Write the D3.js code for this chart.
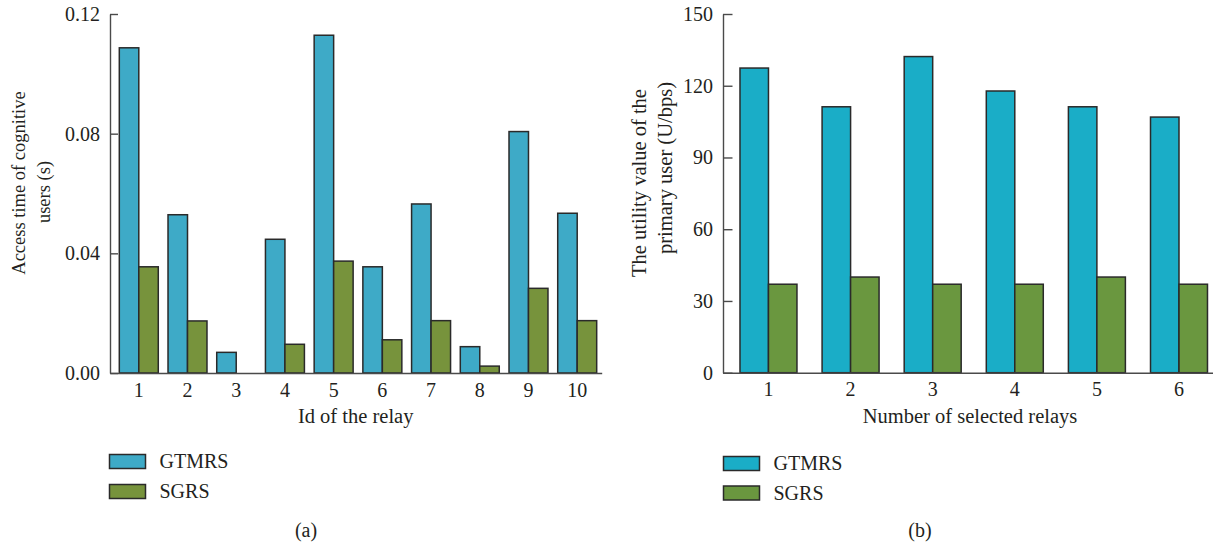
<!DOCTYPE html>
<html>
<head>
<meta charset="utf-8">
<script src="https://cdn.jsdelivr.net/npm/d3@7"></script>
<style>
  body { margin: 0; background: #fff; }
  svg { display: block; }
  text { font-family: "Liberation Serif", "Times New Roman", serif; fill: #231f20; }
  .axis path, .axis line { stroke: #4a4a4a; stroke-width: 1.4; }
  .axis text { font-size: 20px; font-family: "Liberation Serif", serif; fill: #231f20; }
</style>
</head>
<body>
<div id="chart"></div>
<script>
// Data
const seriesNames = ['GTMRS', 'SGRS']

// (a) access time per relay id
const relayIds = ['1', '2', '3', '4', '5', '6', '7', '8', '9', '10']
const accessGTMRS = [0.1087, 0.0529, 0.0069, 0.0447, 0.1129, 0.0355, 0.0565, 0.0088, 0.0807, 0.0534]
const accessSGRS = [0.0355, 0.0174, 0, 0.0096, 0.0374, 0.0111, 0.0175, 0.0023, 0.0283, 0.0175]
const accessTicks = [0, 0.04, 0.08, 0.12]

// (b) utility per number of selected relays
const relayCounts = ['1', '2', '3', '4', '5', '6']
const utilityGTMRS = [127.4, 111.2, 132.2, 117.8, 111.2, 106.9]
const utilitySGRS = [37, 40, 37, 37, 40, 37]
const utilityTicks = [0, 30, 60, 90, 120, 150]

const width = 1213,
  height = 550

let svg = d3.select('#chart')
  .append('svg')
  .attr('width', width)
  .attr('height', height)

let drawPanel = (p) => {
  const g = svg.append('g')

  const y = d3.scaleLinear()
    .domain([0, d3.max(p.ticks)])
    .range([p.bottom, p.top])

  const x0 = d3.scaleBand()
    .domain(p.cats)
    .range([p.left, p.right])
    .paddingInner(p.padIn)
    .paddingOuter(p.padOut)
    .align(p.align)

  const x1 = d3.scaleBand()
    .domain(seriesNames)
    .range([0, x0.bandwidth()])

  const rows = p.cats.map((c, i) => ({ cat: c, vals: [p.a[i], p.b[i]] }))

  // bars
  g.selectAll('g.grp')
    .data(rows)
    .enter()
    .append('g')
    .attr('class', 'grp')
    .attr('transform', d => `translate(${x0(d.cat)},0)`)
    .selectAll('rect')
    .data(d => d.vals.map((v, k) => ({ key: seriesNames[k], v: v })).filter(e => e.v > 0))
    .enter()
    .append('rect')
    .attr('x', d => x1(d.key))
    .attr('y', d => y(d.v))
    .attr('width', x1.bandwidth())
    .attr('height', d => y(0) - y(d.v))
    .attr('fill', d => p.colors[d.key])
    .attr('stroke', '#2a2a2a')
    .attr('stroke-width', 1.5)

  // axes
  g.append('g')
    .attr('class', 'axis')
    .attr('transform', `translate(0,${p.bottom})`)
    .call(d3.axisBottom(x0).tickSize(0).tickPadding(9.5).tickSizeOuter(0))

  g.append('g')
    .attr('class', 'axis')
    .attr('transform', `translate(${p.left},0)`)
    .call(d3.axisLeft(y).tickValues(p.ticks).tickFormat(p.fmt)
      .tickSizeInner(-p.tickLen).tickSizeOuter(0).tickPadding(10))

  // y title (two lines)
  p.yTitle.forEach(t => {
    g.append('text')
      .attr('transform', `translate(${t.x},${t.y}) rotate(-90)`)
      .attr('text-anchor', 'middle')
      .style('font-size', p.yTitleSize + 'px')
      .text(t.text)
  })

  // x title
  g.append('text')
    .attr('x', p.xTitleX)
    .attr('y', 423)
    .attr('text-anchor', 'middle')
    .style('font-size', '20.5px')
    .text(p.xTitle)

  // legend
  seriesNames.forEach((s, k) => {
    g.append('rect')
      .attr('x', p.legX)
      .attr('y', p.legY[k])
      .attr('width', 36)
      .attr('height', 14)
      .attr('fill', p.colors[s])
      .attr('stroke', '#2a2a2a')
      .attr('stroke-width', 1.5)
    g.append('text')
      .attr('x', p.legX + 50)
      .attr('y', p.legY[k] + 13.5)
      .style('font-size', '20px')
      .text(s)
  })

  // panel label
  g.append('text')
    .attr('x', p.capX)
    .attr('y', 537)
    .attr('text-anchor', 'middle')
    .style('font-size', '20px')
    .text(p.caption)
}

drawPanel({
  cats: relayIds, a: accessGTMRS, b: accessSGRS, ticks: accessTicks,
  fmt: d3.format('.2f'),
  left: 110, right: 601.7, top: 14, bottom: 373,
  padIn: 0.2, padOut: 0.147, align: 0.65, tickLen: 8,
  colors: { GTMRS: '#3eaac7', SGRS: '#77933c' },
  yTitle: [
    { text: 'Access time of cognitive', x: 25, y: 183 },
    { text: 'users (s)', x: 50, y: 192 }
  ],
  yTitleSize: 18.5,
  xTitle: 'Id of the relay', xTitleX: 355.7,
  legX: 109.5, legY: [454.5, 484.5],
  caption: '(a)', capX: 306
})

drawPanel({
  cats: relayCounts, a: utilityGTMRS, b: utilitySGRS, ticks: utilityTicks,
  fmt: d3.format('d'),
  left: 723, right: 1213, top: 14, bottom: 372.7,
  padIn: 0.306, padOut: 0.137, align: 0.755, tickLen: 9.5,
  colors: { GTMRS: '#1aadc7', SGRS: '#6a973f' },
  yTitle: [
    { text: 'The utility value of the', x: 645.5, y: 183 },
    { text: 'primary user (U/bps)', x: 671.5, y: 168 }
  ],
  yTitleSize: 20.5,
  xTitle: 'Number of selected relays', xTitleX: 970,
  legX: 723.5, legY: [456.5, 486],
  caption: '(b)', capX: 920
})
</script>
</body>
</html>
